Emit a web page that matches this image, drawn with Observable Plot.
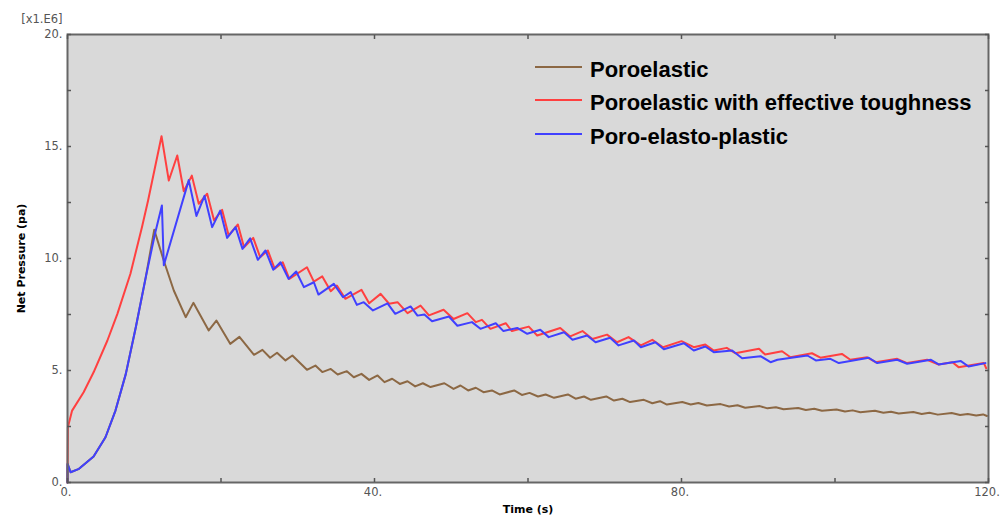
<!DOCTYPE html>
<html>
<head>
<meta charset="utf-8">
<script src="https://cdn.jsdelivr.net/npm/d3@7"></script>
<script src="https://cdn.jsdelivr.net/npm/@observablehq/plot@0.6"></script>
<style>
  html, body { margin: 0; padding: 0; background: #fff; }
  #wrap { position: relative; width: 1000px; height: 517px; }
  #wrap svg { font-family: "DejaVu Sans", sans-serif; }
  g[aria-label="y-axis tick label"] text, g[aria-label="x-axis tick label"] text { fill: #555; font-size: 11.5px; }
  g[aria-label="y-axis label"] text, g[aria-label="x-axis label"] text { fill: #000; font-weight: bold; font-size: 11px; }
  #legend { position: absolute; left: 535px; top: 53px; font-family: "Liberation Sans", Arial, sans-serif; font-weight: bold; font-size: 22px; color: #000; }
  #legend .row { display: flex; align-items: center; height: 33.5px; }
  #legend .sw { width: 47px; height: 0; border-top: 2px solid; margin-right: 8px; margin-top: -6px; }
</style>
</head>
<body>
<div id="wrap"></div>
<script>
// Series names and colours
const seriesNames = ["Poroelastic", "Poroelastic with effective toughness", "Poro-elasto-plastic"];
const seriesColors = ["#8c6844", "#ff4040", "#4040ff"];

// Poroelastic (brown)
const brownT = [0,0.02,0.4,1.5,3.4,4.95,6.25,7.6,8.9,10.2,11.3,12.55,13.85,15.4,16.4,18.4,19.4,21.2,22.4,24.3,25.4,26.4,27.3,28.4,29.3,31.2,32.3,33.2,34.3,35.2,36.4,37.3,38.3,39.3,40.4,41.3,42.3,43.3,44.3,45.3,46.3,47.3,49.1,50.3,51.2,52.2,53.2,54.2,55.3,56.3,58.2,59.2,60.2,61.3,62.3,63.4,65.2,66.2,67.3,68.2,70.2,71.2,72.3,73.3,75.1,76.2,77.2,78.1,80.1,81.2,82.2,83.3,85.1,86.2,87.3,88.3,90.2,91.2,92.3,93.3,95.2,96.2,97.3,98.3,100.2,101.3,102.3,103.3,105.2,106.3,107.3,108.3,110.2,111.3,112.3,113.4,115.2,116.3,117.3,118.4,119.3,119.8];
const brownP = [0,0.83,0.46,0.61,1.16,2.02,3.21,4.85,6.93,9.17,11.28,9.9,8.57,7.38,8.02,6.79,7.23,6.19,6.5,5.7,5.92,5.57,5.79,5.45,5.67,5.03,5.22,4.93,5.07,4.82,4.97,4.7,4.85,4.58,4.78,4.48,4.63,4.4,4.52,4.29,4.43,4.26,4.43,4.18,4.33,4.11,4.23,4.03,4.11,3.93,4.11,3.91,4.0,3.84,3.93,3.78,3.93,3.74,3.84,3.69,3.84,3.66,3.74,3.59,3.69,3.54,3.63,3.48,3.59,3.48,3.55,3.44,3.5,3.39,3.45,3.34,3.41,3.31,3.36,3.27,3.33,3.24,3.29,3.2,3.26,3.17,3.22,3.14,3.2,3.11,3.16,3.08,3.15,3.06,3.11,3.03,3.1,3.01,3.06,2.99,3.04,2.97];

// Poroelastic with effective toughness (red)
const redT = [0,0.05,0.6,2.1,3.4,5.2,6.5,8.2,9.7,10.5,12.25,13.2,14.3,15.15,16.2,17.1,18.2,19.1,20.15,21.0,22.2,23.0,24.2,25.1,26.1,27.0,28.05,28.9,31.2,32.1,33.2,34.3,35.1,36.2,38.3,39.3,40.8,41.9,43.0,44.3,46.0,47.1,49.0,50.3,52.1,53.2,54.0,55.1,57.1,57.9,60.1,61.2,64.2,65.5,67.1,68.4,70.3,71.6,73.1,74.7,76.2,77.6,80.0,81.6,83.1,84.2,85.9,87.0,90.1,90.9,93.1,94.2,97.0,98.1,100.9,102.0,104.2,105.3,108.1,109.4,112.0,113.5,115.3,116.1,119.4,119.7];
const redP = [0,2.47,3.21,4.03,4.92,6.34,7.53,9.32,11.4,12.59,15.46,13.48,14.6,13.0,13.7,12.44,12.89,11.7,12.17,11.03,11.52,10.5,10.92,10.06,10.36,9.54,9.83,9.09,9.61,8.97,9.2,8.54,8.79,8.2,8.6,8.0,8.42,7.98,8.05,7.56,7.9,7.46,7.71,7.3,7.56,7.16,7.26,6.86,7.11,6.76,6.96,6.56,6.9,6.52,6.76,6.41,6.6,6.26,6.49,6.12,6.37,6.04,6.31,6.04,6.16,5.89,6.01,5.77,5.97,5.71,5.86,5.59,5.77,5.57,5.74,5.48,5.59,5.37,5.52,5.33,5.48,5.27,5.37,5.15,5.33,5.1];

// Poro-elasto-plastic (blue)
const blueT = [0,0,0.4,1.5,3.4,4.95,6.25,7.6,8.9,10.2,11.4,12.3,12.55,15.8,16.8,17.85,18.85,19.9,20.8,21.9,22.8,23.8,24.8,25.8,26.8,27.75,28.8,29.8,30.8,32.1,32.7,34.7,35.9,36.9,37.7,38.6,39.8,41.7,42.7,44.7,45.6,46.5,47.5,49.7,50.8,52.7,53.8,55.8,56.8,58.6,59.9,61.6,62.7,64.7,65.8,67.7,68.8,70.7,71.8,73.8,74.7,76.6,77.7,80.3,81.6,83.1,84.2,86.6,87.9,90.3,91.6,92.5,96.4,97.5,99.4,100.5,104.4,105.5,108.1,109.4,112.5,113.5,116.4,117.4,119.6];
const blueP = [0,0.83,0.46,0.61,1.16,2.02,3.21,4.85,6.93,9.17,11.1,12.37,9.7,13.5,11.9,12.8,11.4,12.14,10.92,11.4,10.43,10.9,9.94,10.36,9.5,9.83,9.09,9.42,8.72,8.94,8.39,8.87,8.27,8.5,7.93,8.05,7.68,8.0,7.53,7.86,7.45,7.5,7.2,7.41,7.0,7.16,6.86,7.11,6.76,6.9,6.64,6.82,6.49,6.71,6.37,6.56,6.26,6.46,6.12,6.34,6.04,6.26,5.95,6.22,5.89,6.07,5.82,5.89,5.55,5.64,5.37,5.48,5.67,5.45,5.52,5.33,5.57,5.33,5.48,5.3,5.48,5.27,5.42,5.18,5.33];

// Axis ticks
const xMajor = [0, 40, 80, 120];
const xMinor = [0, 20, 40, 60, 80, 100, 120];
const yMajor = [0, 5, 10, 15, 20];
const yMinor = [0, 2.5, 5, 7.5, 10, 12.5, 15, 17.5, 20];

const toRows = (T, P) => T.map((t, i) => ({t, p: P[i]}));
const brown = toRows(brownT, brownP);
const red = toRows(redT, redP);
const blue = toRows(blueT, blueP);

const fmt = d => d + ".";
const TS = 4;

const chart = Plot.plot({
  width: 1000,
  height: 517,
  marginLeft: 67,
  marginRight: 12,
  marginTop: 34,
  marginBottom: 35,
  style: {background: "#fff", fontFamily: "DejaVu Sans, sans-serif", fontSize: "12px"},
  x: {domain: [0, 120]},
  y: {domain: [0, 20]},
  marks: [
    Plot.frame({fill: "#d9d9d9", stroke: "none"}),
    Plot.line(brown, {x: "t", y: "p", stroke: seriesColors[0], strokeWidth: 2}),
    Plot.line(red, {x: "t", y: "p", stroke: seriesColors[1], strokeWidth: 2}),
    Plot.line(blue, {x: "t", y: "p", stroke: seriesColors[2], strokeWidth: 2}),
    Plot.frame({stroke: "#666", strokeWidth: 2}),
    // inward ticks
    Plot.axisY(yMinor, {anchor: "left", tickSize: TS, dx: TS, tickFormat: () => "", label: null, stroke: "#555", strokeWidth: 1.5}),
    Plot.axisY(yMinor, {anchor: "right", tickSize: TS, dx: -TS, tickFormat: () => "", label: null, stroke: "#555", strokeWidth: 1.5}),
    Plot.axisX(xMinor, {anchor: "bottom", tickSize: TS, dy: -TS, tickFormat: () => "", label: null, stroke: "#555", strokeWidth: 1.5}),
    Plot.axisX(xMinor, {anchor: "top", tickSize: TS, dy: TS, tickFormat: () => "", label: null, stroke: "#555", strokeWidth: 1.5}),
    // labels
    Plot.axisY(yMajor, {anchor: "left", tickSize: 0, tickPadding: 5, dy: 0, tickFormat: fmt, label: "Net Pressure (pa)", labelAnchor: "center", labelArrow: false, labelOffset: 50}),
    Plot.axisX(xMajor, {anchor: "bottom", tickSize: 0, tickPadding: 5, dx: -1.5, tickFormat: fmt, label: "Time (s)", labelAnchor: "center", labelArrow: false, labelOffset: 30}),
    Plot.text(["[x1.E6]"], {frameAnchor: "top-left", dx: -5, dy: -20, textAnchor: "end", fill: "#555", fontSize: 11.5})
  ]
});

const wrap = document.getElementById("wrap");
wrap.appendChild(chart);

const legend = document.createElement("div");
legend.id = "legend";
seriesNames.forEach((name, i) => {
  const row = document.createElement("div");
  row.className = "row";
  const sw = document.createElement("span");
  sw.className = "sw";
  sw.style.borderTopColor = seriesColors[i];
  const tx = document.createElement("span");
  tx.textContent = name;
  row.appendChild(sw);
  row.appendChild(tx);
  legend.appendChild(row);
});
wrap.appendChild(legend);
</script>
</body>
</html>
